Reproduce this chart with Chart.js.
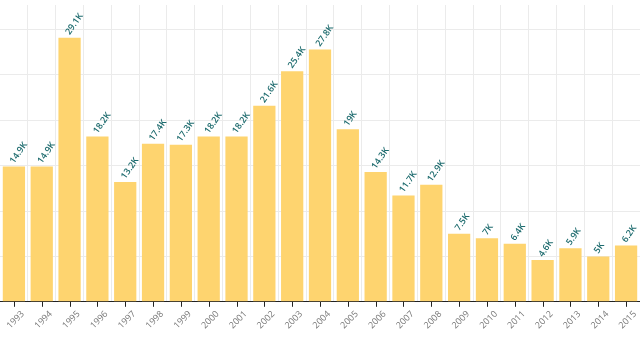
<!DOCTYPE html>
<html lang="en">
<head>
  <meta charset="UTF-8">
  <title>Yearly totals</title>
  <script src="https://cdn.jsdelivr.net/npm/chart.js"></script>
  <style>
    html, body { margin: 0; padding: 0; background: #fff; }
    #wrap { width: 640px; height: 338px; }
  </style>
</head>
<body>
<div id="wrap"><canvas id="barChart"></canvas></div>
<script>
const years = ['1993','1994','1995','1996','1997','1998','1999','2000','2001','2002','2003','2004',
               '2005','2006','2007','2008','2009','2010','2011','2012','2013','2014','2015'];
const totals = [14900, 14900, 29100, 18200, 13200, 17400, 17300, 18200, 18200, 21600, 25400, 27800,
                19000, 14300, 11700, 12900, 7500, 7000, 6400, 4600, 5900, 5000, 6200];
const barLabels = ['14.9K','14.9K','29.1K','18.2K','13.2K','17.4K','17.3K','18.2K','18.2K','21.6K','25.4K','27.8K',
                   '19K','14.3K','11.7K','12.9K','7.5K','7K','6.4K','4.6K','5.9K','5K','6.2K'];
const gridSteps = [0, 5000, 10000, 15000, 20000, 25000, 30000];

// value labels above bars + tick marks at bar centres
const barExtras = {
  id: 'barExtras',
  afterDatasetsDraw(chart) {
    const ctx = chart.ctx;
    const meta = chart.getDatasetMeta(0);
    ctx.save();
    ctx.font = '600 9px "Open Sans", sans-serif';
    ctx.fillStyle = '#1d6b6e';
    ctx.textAlign = 'left';
    ctx.textBaseline = 'middle';
    meta.data.forEach((bar, i) => {
      ctx.save();
      ctx.translate(bar.x - 2, bar.y - 4);
      ctx.rotate(-55 * Math.PI / 180);
      ctx.fillText(barLabels[i], 0, 0);
      ctx.restore();
    });
    const xs = chart.scales.x;
    ctx.strokeStyle = '#222';
    ctx.lineWidth = 1;
    years.forEach((y, i) => {
      const px = Math.round(xs.getPixelForValue(i)) + 0.5;
      ctx.beginPath();
      ctx.moveTo(px, xs.top);
      ctx.lineTo(px, xs.top + 5);
      ctx.stroke();
    });
    ctx.restore();
  }
};

new Chart(document.getElementById('barChart'), {
  type: 'bar',
  data: {
    labels: years,
    datasets: [{
      data: totals,
      backgroundColor: '#fed46f',
      categoryPercentage: 0.8,
      barPercentage: 1
    }]
  },
  options: {
    responsive: true,
    maintainAspectRatio: false,
    animation: false,
    layout: { padding: { top: 5, left: 0, right: 0, bottom: 0 } },
    plugins: { legend: { display: false }, tooltip: { enabled: false } },
    scales: {
      x: {
        grid: { color: '#ebebeb', offset: true, drawTicks: false },
        border: { color: '#222' },
        ticks: {
          color: '#777',
          font: { family: '"Open Sans", sans-serif', size: 9 },
          minRotation: 45, maxRotation: 45,
          padding: 7,
          labelOffset: 9
        },
        afterFit(scale) {
          scale.paddingLeft = 0;
          scale.paddingRight = 0;
        }
      },
      y: {
        display: true,
        min: 0, max: 32700,
        afterBuildTicks(scale) {
          scale.ticks = gridSteps.map(v => ({ value: v }));
        },
        ticks: { display: false },
        grid: { display: true, color: '#ebebeb', drawTicks: false },
        border: { display: false }
      }
    }
  },
  plugins: [barExtras]
});
</script>
</body>
</html>
